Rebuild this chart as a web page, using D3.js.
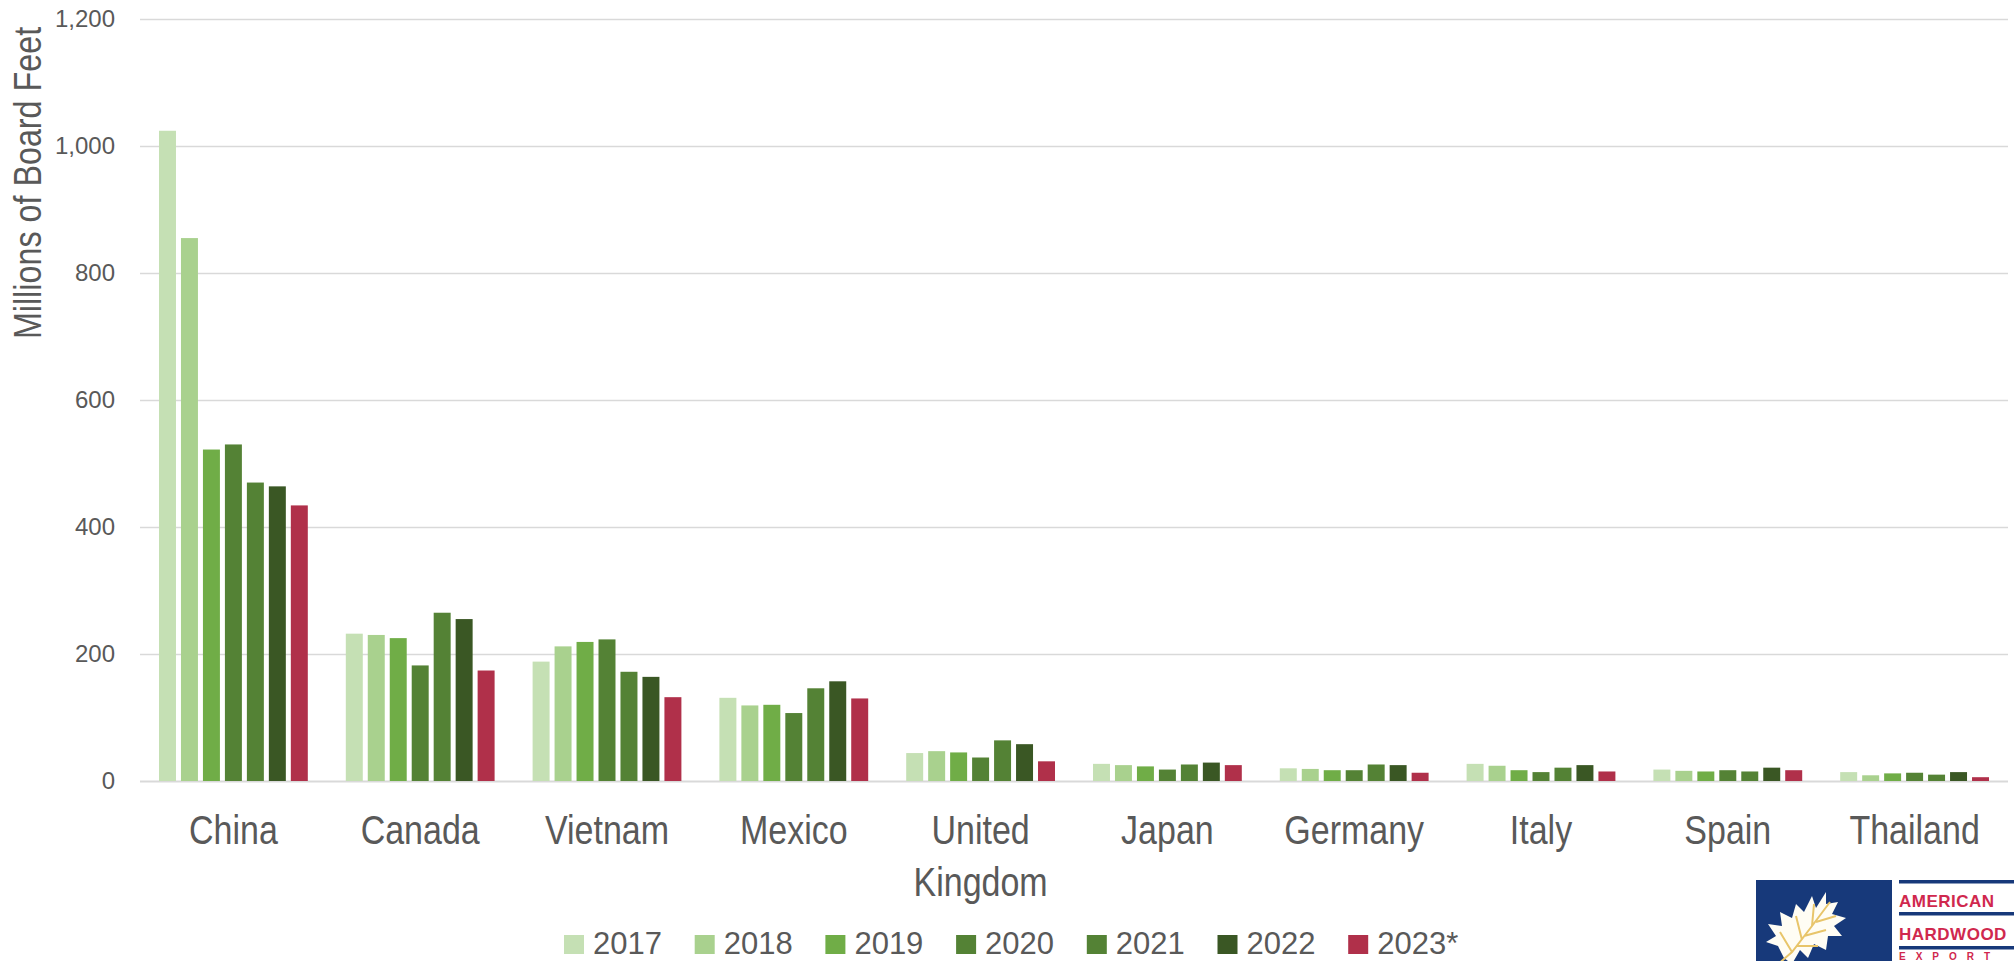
<!DOCTYPE html>
<html>
<head>
<meta charset="utf-8">
<script src="https://cdnjs.cloudflare.com/ajax/libs/d3/7.8.5/d3.min.js"></script>
<style>
    html, body { margin: 0; padding: 0; background: #ffffff; overflow: hidden; }
</style>
</head>
<body>
<div id="chart"></div>
<script>
// data (millions of board feet)
const countries = ["China", "Canada", "Vietnam", "Mexico", "United Kingdom", "Japan", "Germany", "Italy", "Spain", "Thailand"];
const years = ["2017", "2018", "2019", "2020", "2021", "2022", "2023*"];
const v2017 = [1024, 232, 188, 131, 44, 27, 20, 27, 18, 14];
const v2018 = [855, 230, 212, 119, 47, 25, 19, 24, 16, 9];
const v2019 = [522, 225, 219, 120, 45, 23, 17, 17, 15, 12];
const v2020 = [530, 182, 223, 107, 37, 18, 17, 14, 17, 13];
const v2021 = [470, 265, 172, 146, 64, 26, 26, 21, 15, 10];
const v2022 = [464, 255, 164, 157, 58, 29, 25, 25, 21, 14];
const v2023 = [434, 174, 132, 130, 31, 25, 13, 15, 17, 6];
const yTicks = [0, 200, 400, 600, 800, 1000, 1200];
const yLabel = "Millions of Board Feet";
const logoLines = ["AMERICAN", "HARDWOOD", "EXPORT"];

const seriesValues = [v2017, v2018, v2019, v2020, v2021, v2022, v2023];
const barColors = ["#C5E0B4", "#A9D18E", "#70AD47", "#548235", "#548235", "#3A5724", "#B0304A"];

function drawChart(divId) {
    const W = 2014, H = 961;
    const textColor = "#595959";
    const font = "'Liberation Sans', Arial, sans-serif";
    const squeeze = 0.85;   // the original face is a narrow one

    const margin = {top: 19, right: 6, bottom: 180, left: 140};

    const svg = d3.select(divId)
        .append("svg")
            .attr("width", W)
            .attr("height", H)
            .attr("viewBox", `0 0 ${W} ${H}`)
            .style("display", "block");

    svg.append("rect").attr("width", W).attr("height", H).attr("fill", "#ffffff");

    const rows = countries.map((c, i) => ({
        country: c,
        values: years.map((yr, j) => ({year: yr, value: seriesValues[j][i]}))
    }));

    const x0 = d3.scaleBand()
        .domain(countries)
        .range([margin.left, W - margin.right])
        .padding(0);

    const groupPad = 19;
    const x1 = d3.scaleBand()
        .domain(years)
        .range([groupPad, x0.bandwidth() - groupPad])
        .paddingInner(5 / 22)
        .paddingOuter(0);

    const y = d3.scaleLinear()
        .domain([0, 1200])
        .range([H - margin.bottom, margin.top]);

    const color = d3.scaleOrdinal().domain(years).range(barColors);

    // gridlines + tick labels
    const yAxis = svg.append("g")
        .attr("class", "y-axis")
        .attr("transform", `translate(${margin.left},0)`)
        .call(d3.axisLeft(y)
            .tickValues(yTicks)
            .tickSize(-(W - margin.left - margin.right))
            .tickPadding(25)
            .tickFormat(d3.format(",")));

    yAxis.select(".domain").remove();
    yAxis.selectAll(".tick line")
        .attr("stroke", "#D9D9D9")
        .attr("stroke-width", d => d === 0 ? 2 : 1.5);
    yAxis.selectAll(".tick text")
        .style("font-family", font)
        .style("font-size", "24px")
        .attr("fill", textColor);

    svg.append("text")
        .attr("transform", `translate(41,183) rotate(-90) scale(${squeeze},1)`)
        .style("font-family", font)
        .style("font-size", "38px")
        .style("text-anchor", "middle")
        .attr("fill", textColor)
        .text(yLabel);

    // bars
    const groups = svg.selectAll(".country")
        .data(rows)
        .join("g")
            .attr("class", "country")
            .attr("transform", d => `translate(${x0(d.country)},0)`);

    groups.selectAll("rect")
        .data(d => d.values)
        .join("rect")
            .attr("x", d => x1(d.year))
            .attr("y", d => y(d.value))
            .attr("width", x1.bandwidth())
            .attr("height", d => y(0) - y(d.value))
            .attr("fill", d => color(d.year));

    // category labels (two words wrap onto two lines)
    const catLabels = svg.selectAll(".country-name")
        .data(countries)
        .join("text")
            .attr("class", "country-name")
            .attr("transform", d => `translate(${x0(d) + x0.bandwidth() / 2},844) scale(${squeeze},1)`)
            .style("font-family", font)
            .style("font-size", "40px")
            .style("text-anchor", "middle")
            .attr("fill", textColor);

    catLabels.each(function(d) {
        const t = d3.select(this);
        d.split(" ").forEach((w, k) => {
            t.append("tspan")
                .attr("x", 0)
                .attr("y", k * 52)
                .text(w);
        });
    });

    // legend
    const lx = d3.scalePoint()
        .domain(years)
        .range([564, 564 + 6 * 130.7]);

    const legend = svg.selectAll(".legend-item")
        .data(years)
        .join("g")
            .attr("class", "legend-item")
            .attr("transform", d => `translate(${lx(d)},935)`);

    legend.append("rect")
        .attr("width", 20)
        .attr("height", 19)
        .attr("fill", d => color(d));

    legend.append("text")
        .attr("x", 29)
        .attr("y", 19)
        .style("font-family", font)
        .style("font-size", "31px")
        .attr("fill", textColor)
        .text(d => d);

    // logo in the corner
    const logo = svg.append("g").attr("transform", "translate(1756,880)");
    logo.append("rect").attr("width", 136).attr("height", 90).attr("fill", "#17397A");

    const leaf = "M28,78 L22,66 L10,62 L20,56 L12,44 L26,46 L24,32 L36,38 L40,24 L48,32 L56,16 L60,28 L70,12 L70,24 L82,22 L76,34 L90,38 L78,46 L86,56 L72,56 L70,70 L58,64 L52,78 L44,70 L36,84 Z";
    logo.append("path").attr("d", leaf).attr("fill", "#FFFDF4");
    logo.append("path")
        .attr("d", "M20,86 L36,72 L56,46 L74,22 M36,72 L24,52 M46,60 L40,36 M56,46 L58,24 M48,56 L70,50 M60,42 L80,36 M40,66 L62,66")
        .attr("fill", "none")
        .attr("stroke", "#E8C56A")
        .attr("stroke-width", 2);

    [0, 32, 66].forEach(ly => {
        logo.append("rect")
            .attr("x", 143).attr("y", ly)
            .attr("width", 130).attr("height", 3.5)
            .attr("fill", "#17397A");
    });

    logo.selectAll(".logo-text")
        .data(logoLines)
        .join("text")
            .attr("class", "logo-text")
            .attr("x", 143)
            .attr("y", (d, i) => [27, 60, 80][i])
            .style("font-family", font)
            .style("font-weight", 700)
            .style("font-size", (d, i) => i === 2 ? "10px" : "17px")
            .style("letter-spacing", (d, i) => i === 2 ? "10px" : "0.5px")
            .attr("fill", "#D0284E")
            .text(d => d);
}

drawChart("#chart");
</script>
</body>
</html>
